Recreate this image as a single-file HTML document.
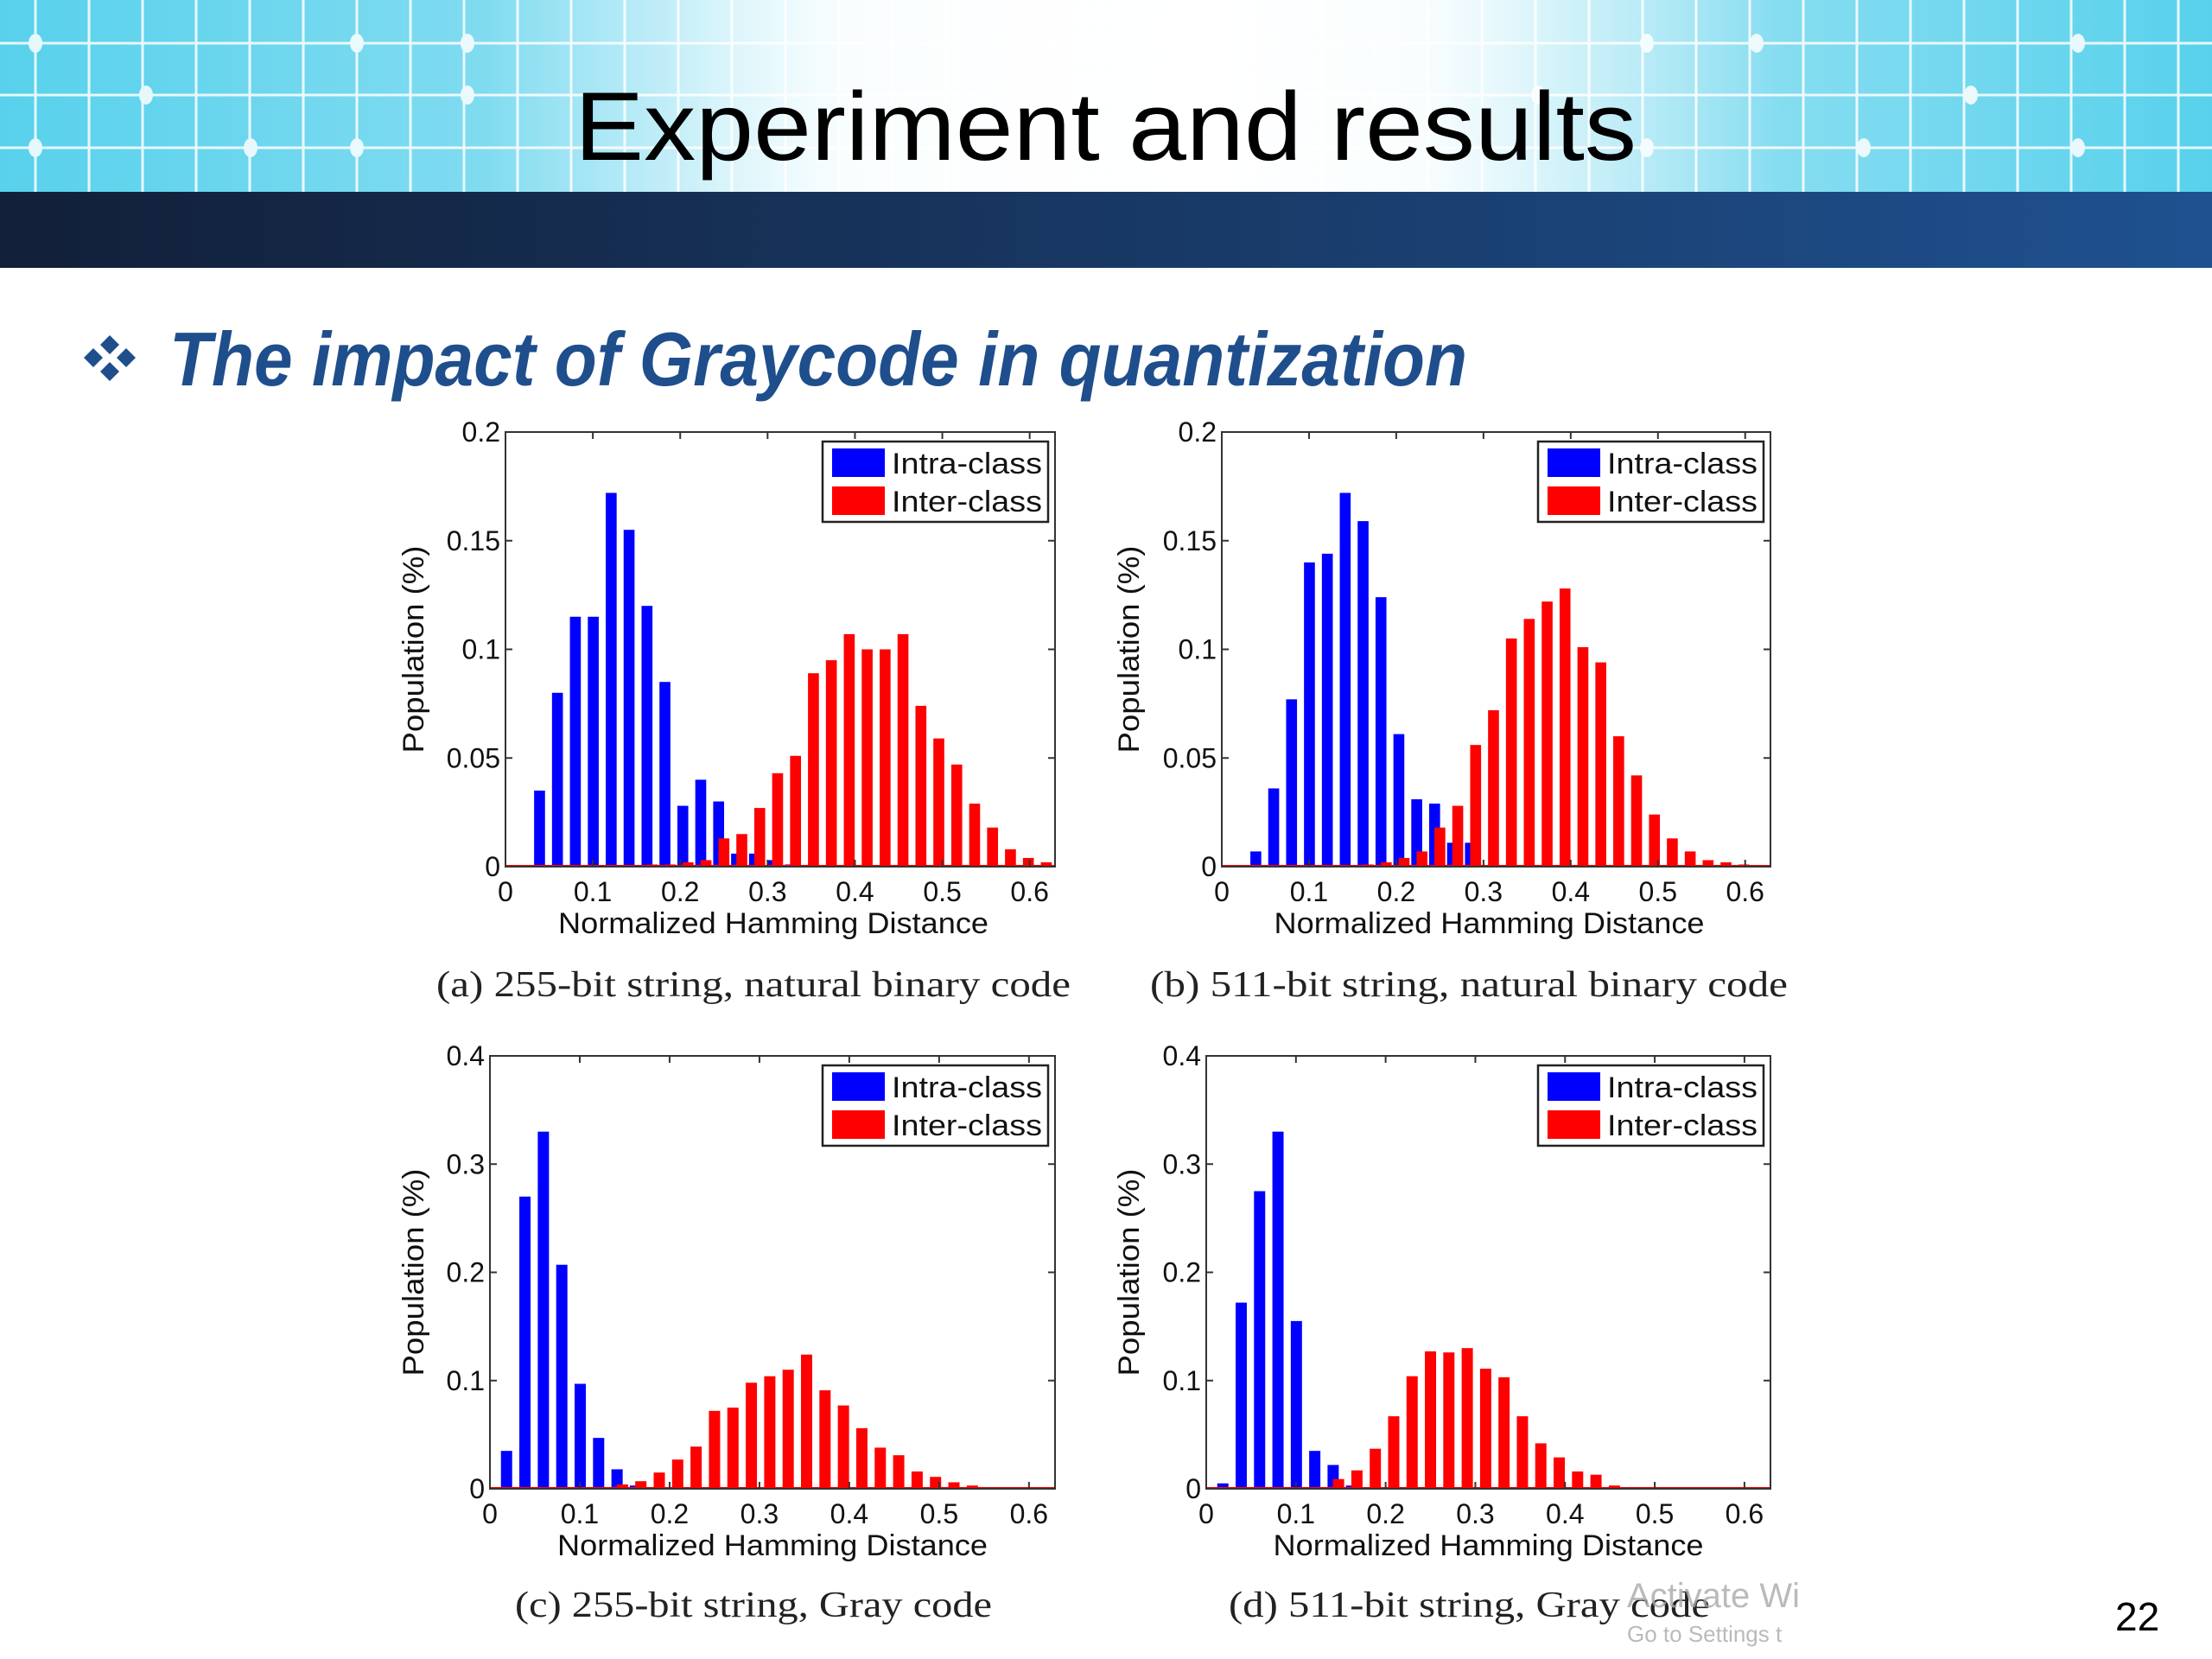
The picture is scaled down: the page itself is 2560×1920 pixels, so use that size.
<!DOCTYPE html>
<html><head><meta charset="utf-8"><style>
html,body{margin:0;padding:0;background:#fff;}
svg{display:block;}
</style></head><body>
<svg id="page" width="2560" height="1920" viewBox="0 0 2560 1920" xmlns="http://www.w3.org/2000/svg" font-family="'Liberation Sans', sans-serif">
<defs>
<linearGradient id="hdr" x1="0" y1="0" x2="1" y2="0">
<stop offset="0" stop-color="#58d1ec"/><stop offset="0.3" stop-color="#8edff2"/><stop offset="0.45" stop-color="#eefafd"/><stop offset="0.55" stop-color="#ffffff"/><stop offset="0.7" stop-color="#9ee3f3"/><stop offset="1" stop-color="#58d1ec"/>
</linearGradient>
<linearGradient id="fade" x1="0" y1="0" x2="1" y2="0">
<stop offset="0" stop-color="#fff" stop-opacity="0"/><stop offset="0.28" stop-color="#fff" stop-opacity="0.9"/><stop offset="0.72" stop-color="#fff" stop-opacity="0.9"/><stop offset="1" stop-color="#fff" stop-opacity="0"/>
</linearGradient>
<linearGradient id="band" x1="0" y1="0" x2="1" y2="0">
<stop offset="0" stop-color="#121f38"/><stop offset="0.45" stop-color="#17355f"/><stop offset="1" stop-color="#1f5190"/>
</linearGradient>
</defs>
<g>
<rect x="0" y="0" width="2560" height="222" fill="url(#hdr)"/>
<g id="grid" stroke="#fff" stroke-width="3" opacity="0.85"></g>
<rect x="560" y="0" width="1500" height="222" fill="url(#fade)"/>
<rect x="0" y="222" width="2560" height="88" fill="url(#band)"/>
</g>
<text x="665" y="185" font-size="112" textLength="1229" lengthAdjust="spacingAndGlyphs" fill="#000">Experiment and results</text>
<g fill="#1f4e8c">
<path d="M127 388 L138 399 L127 410 L116 399Z"/>
<path d="M127 419 L138 430 L127 441 L116 430Z"/>
<path d="M108 403 L119 414 L108 425 L97 414Z"/>
<path d="M146 403 L157 414 L146 425 L135 414Z"/>
</g>
<text x="196" y="446" font-size="88" font-weight="bold" font-style="italic" fill="#1f4e8c" textLength="1502" lengthAdjust="spacingAndGlyphs">The impact of Graycode  in quantization</text>
<g id="charts"></g>
<g font-family="'Liberation Serif', serif" font-size="42" fill="#222">
<text x="505" y="1153" textLength="734" lengthAdjust="spacingAndGlyphs">(a) 255-bit string, natural binary code</text>
<text x="1331" y="1153" textLength="738" lengthAdjust="spacingAndGlyphs">(b) 511-bit string, natural binary code</text>
<text x="596" y="1871" textLength="552" lengthAdjust="spacingAndGlyphs">(c) 255-bit string, Gray code</text>
<text x="1422" y="1871" textLength="557" lengthAdjust="spacingAndGlyphs">(d) 511-bit string, Gray code</text>
</g>
<text x="1883" y="1860" font-size="40" fill="#aaa" opacity="0.8">Activate Wi</text>
<text x="1883" y="1900" font-size="26" fill="#aaa" opacity="0.8">Go to Settings t</text>
<text x="2448" y="1887" font-size="46" fill="#000">22</text>
</svg>
<script>
// Bin geometry (data units of normalized Hamming distance)
const binStep = 0.0205;
const binOrigin = -0.002;
const redShift = 0.006;
const barW = 0.0125;
const xTicks = [0, 0.1, 0.2, 0.3, 0.4, 0.5, 0.6];
const xTickLabels = ["0", "0.1", "0.2", "0.3", "0.4", "0.5", "0.6"];
const yTicksAB = [0, 0.05, 0.1, 0.15, 0.2];
const yTickLabelsAB = ["0", "0.05", "0.1", "0.15", "0.2"];
const yTicksCD = [0, 0.1, 0.2, 0.3, 0.4];
const yTickLabelsCD = ["0", "0.1", "0.2", "0.3", "0.4"];
const seriesNames = ["Intra-class", "Inter-class"];

// (a) 255-bit natural binary
const blueAStart = 2;
const blueA = [0.035, 0.08, 0.115, 0.115, 0.172, 0.155, 0.12, 0.085, 0.028, 0.04, 0.03, 0.006, 0.006, 0.003, 0.001];
const redAStart = 7;
const redA = [0.0005, 0.001, 0.001, 0.002, 0.003, 0.013, 0.015, 0.027, 0.043, 0.051, 0.089, 0.095, 0.107, 0.1, 0.1, 0.107, 0.074, 0.059, 0.047, 0.029, 0.018, 0.008, 0.004, 0.002];
// (b) 511-bit natural binary
const blueBStart = 2;
const blueB = [0.007, 0.036, 0.077, 0.14, 0.144, 0.172, 0.159, 0.124, 0.061, 0.031, 0.029, 0.011, 0.011];
const redBStart = 8;
const redB = [0.001, 0.002, 0.004, 0.007, 0.018, 0.028, 0.056, 0.072, 0.105, 0.114, 0.122, 0.128, 0.101, 0.094, 0.06, 0.042, 0.024, 0.013, 0.007, 0.003, 0.002, 0.001];
// (c) 255-bit Gray
const blueCStart = 1;
const blueC = [0.035, 0.27, 0.33, 0.207, 0.097, 0.047, 0.018, 0.003];
const redCStart = 7;
const redC = [0.004, 0.007, 0.015, 0.027, 0.039, 0.072, 0.075, 0.098, 0.104, 0.11, 0.124, 0.091, 0.077, 0.056, 0.038, 0.031, 0.016, 0.011, 0.006, 0.003, 0.001];
// (d) 511-bit Gray
const blueDStart = 1;
const blueD = [0.005, 0.172, 0.275, 0.33, 0.155, 0.035, 0.022, 0.003];
const redDStart = 7;
const redD = [0.009, 0.017, 0.037, 0.067, 0.104, 0.127, 0.126, 0.13, 0.111, 0.103, 0.067, 0.042, 0.029, 0.016, 0.013, 0.003, 0.001];

const NS = "http://www.w3.org/2000/svg";
function mk(tag, attrs, parent) {
  const e = document.createElementNS(NS, tag);
  for (const k in attrs) e.setAttribute(k, attrs[k]);
  if (parent) parent.appendChild(e);
  return e;
}

// header grid
const grid = document.getElementById('grid');
for (let x = 41; x < 2560; x += 62) {
  const l = mk('line', {x1: x, y1: 0, x2: x, y2: 222}, grid);
  
  
}
[50, 110, 171].forEach(y => {
  const l = mk('line', {x1: 0, y1: y, x2: 2560, y2: y}, grid);
  
  
});
[[41,50],[413,50],[541,50],[169,110],[541,110],[41,171],[290,171],[413,171],[1906,50],[2033,50],[1780,110],[2281,110],[1906,171],[2157,171],[2405,171],[2405,50]].forEach(p => {
  const d = mk('ellipse', {cx: p[0], cy: p[1], rx: 8, ry: 11, fill: '#fff', stroke: 'none'}, grid);
  
  
});

const charts = document.getElementById('charts');
function drawChart(cfg) {
  const g = mk('g', {}, charts);
  
  
  const L = cfg.L, R = cfg.R, T = cfg.T, B = cfg.B;
  const xMax = 0.629;
  const sx = v => L + (v / xMax) * (R - L);
  const sy = v => B - (v / cfg.yMax) * (B - T);
  const binX = k => binOrigin + binStep * k;
  mk('rect', {x: L, y: T, width: R - L, height: B - T, fill: '#fff'}, g);
  function bars(vals, start, shift, color, nm) {
    vals.forEach((v, i) => {
      const c = binX(start + i) + shift;
      const x0 = sx(c - barW / 2), x1 = sx(c + barW / 2);
      const r = mk('rect', {x: x0, y: sy(v), width: x1 - x0, height: B - sy(v), fill: color}, g);
      
      
    });
  }
  bars(cfg.blue, cfg.blueStart, 0, '#0000ff', 'intra-class-bar');
  bars(cfg.red, cfg.redStart, redShift, '#ff0000', 'inter-class-bar');
  mk('line', {x1: L, y1: B - 1, x2: R, y2: B - 1, stroke: '#ff0000', 'stroke-width': 2}, g);
  const box = mk('rect', {x: L, y: T, width: R - L, height: B - T, fill: 'none', stroke: '#333', 'stroke-width': 2}, g);
  
  
  xTicks.forEach((t, i) => {
    const x = sx(t);
    mk('line', {x1: x, y1: B, x2: x, y2: B - 8, stroke: '#333', 'stroke-width': 2}, g);
    mk('line', {x1: x, y1: T, x2: x, y2: T + 8, stroke: '#333', 'stroke-width': 2}, g);
    const tx = mk('text', {x: x, y: B + 40, 'font-size': 32, 'text-anchor': 'middle', fill: '#111'}, g);
    tx.textContent = xTickLabels[i];
    
    
  });
  cfg.yTicks.forEach((t, i) => {
    const y = sy(t);
    mk('line', {x1: L, y1: y, x2: L + 8, y2: y, stroke: '#333', 'stroke-width': 2}, g);
    mk('line', {x1: R, y1: y, x2: R - 8, y2: y, stroke: '#333', 'stroke-width': 2}, g);
    const ty = mk('text', {x: L - 6, y: y + 11, 'font-size': 32, 'text-anchor': 'end', fill: '#111'}, g);
    ty.textContent = cfg.yLabels[i];
    
    
  });
  const xl = mk('text', {x: (L + R) / 2 + cfg.xlOff, y: B + 77, 'font-size': 34, 'text-anchor': 'middle', fill: '#111', textLength: 498, lengthAdjust: 'spacingAndGlyphs'}, g);
  xl.textContent = 'Normalized Hamming Distance';
  
  
  const yl = mk('text', {x: 0, y: 0, 'font-size': 34, 'text-anchor': 'middle', fill: '#111', textLength: 240, lengthAdjust: 'spacingAndGlyphs', transform: `translate(${cfg.ylX},${(T + B) / 2}) rotate(-90)`}, g);
  yl.textContent = 'Population (%)';
  
  
  const lg = mk('g', {}, g);
  
  
  const lx = R - 269, ly = T + 11;
  mk('rect', {x: lx, y: ly, width: 261, height: 93, fill: '#fff', stroke: '#222', 'stroke-width': 2.5}, lg);
  ['#0000ff', '#ff0000'].forEach((c, i) => {
    const e = mk('g', {}, lg);
    
    
    mk('rect', {x: lx + 11, y: ly + 8 + i * 44, width: 61, height: 33, fill: c}, e);
    const t = mk('text', {x: lx + 80, y: ly + 37 + i * 44, 'font-size': 34, fill: '#111', textLength: 174, lengthAdjust: 'spacingAndGlyphs'}, e);
    t.textContent = seriesNames[i];
  });
}
drawChart({name: 'chart-a', L: 585, R: 1221, T: 500, B: 1003, yMax: 0.2, yTicks: yTicksAB, yLabels: yTickLabelsAB, blue: blueA, blueStart: blueAStart, red: redA, redStart: redAStart, ylX: 490, xlOff: -8});
drawChart({name: 'chart-b', L: 1414, R: 2049, T: 500, B: 1003, yMax: 0.2, yTicks: yTicksAB, yLabels: yTickLabelsAB, blue: blueB, blueStart: blueBStart, red: redB, redStart: redBStart, ylX: 1318, xlOff: -8});
drawChart({name: 'chart-c', L: 567, R: 1221, T: 1222, B: 1723, yMax: 0.4, yTicks: yTicksCD, yLabels: yTickLabelsCD, blue: blueC, blueStart: blueCStart, red: redC, redStart: redCStart, ylX: 490, xlOff: 0});
drawChart({name: 'chart-d', L: 1396, R: 2049, T: 1222, B: 1723, yMax: 0.4, yTicks: yTicksCD, yLabels: yTickLabelsCD, blue: blueD, blueStart: blueDStart, red: redD, redStart: redDStart, ylX: 1318, xlOff: 0});
</script>
</body></html>
